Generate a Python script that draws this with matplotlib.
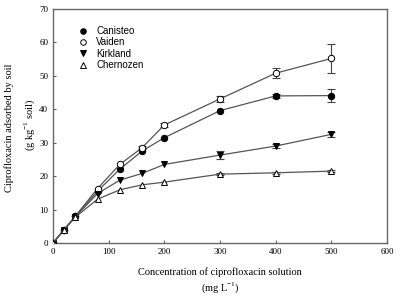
import numpy as np
import matplotlib.pyplot as plt
from matplotlib.lines import Line2D

plt.rcParams['mathtext.fontset'] = 'custom'
plt.rcParams['mathtext.rm'] = 'Liberation Serif'

# concentration of solution (mg/L)
conc = [0, 20, 40, 80, 120, 160, 200, 300, 400, 500]

# adsorbed amounts (g/kg soil)
canisteo = [0, 4.0, 8.0, 15.5, 22.1, 27.5, 31.5, 39.6, 44.0, 44.1]
canisteo_err = [0, 0, 0, 0, 0, 0, 0, 0, 0.5, 2.0]
vaiden = [0, 4.0, 8.0, 16.3, 23.5, 28.5, 35.3, 43.1, 50.8, 55.2]
vaiden_err = [0, 0, 0, 0, 0, 0.5, 0.5, 1.0, 1.5, 4.3]
kirkland = [0, 4.0, 7.8, 14.8, 18.8, 20.8, 23.5, 26.3, 29.0, 32.5]
kirkland_err = [0, 0, 0, 0, 0, 0, 0, 1.3, 0.5, 0.8]
chernozen = [0, 4.0, 7.7, 13.1, 15.9, 17.4, 18.2, 20.6, 21.0, 21.5]
chernozen_err = [0, 0, 0, 0, 0, 0, 0, 0.3, 0.3, 0.3]

names = ['Canisteo', 'Vaiden', 'Kirkland', 'Chernozen']
series = [canisteo, vaiden, kirkland, chernozen]
errs = [canisteo_err, vaiden_err, kirkland_err, chernozen_err]
markers = ['o', 'o', 'v', '^']
fills = ['black', 'white', 'black', 'white']

fig = plt.figure(figsize=(4, 3), dpi=100)
ax = fig.add_axes([0.1325, 0.19, 0.835, 0.78])

line_c = '#555555'
handles = []
for name, y, e, m, f in zip(names, series, errs, markers, fills):
    x = np.array(conc)
    y = np.array(y)
    e = np.array(e)
    keep = e > 0
    ax.errorbar(x[keep], y[keep], yerr=e[keep], fmt='none', ecolor='#444444',
                elinewidth=0.8, capsize=3, capthick=0.8, zorder=2)
    ax.plot(x, y, color=line_c, lw=0.9, marker=m, ms=4.6, mfc=f,
            mec='black', mew=0.7, zorder=3)
    handles.append(Line2D([], [], ls='none', marker=m, ms=4.0, mfc=f,
                          mec='black', mew=0.7, label=name))

ax.set_xlim(0, 600)
ax.set_ylim(0, 70)
ax.set_xticks([0, 100, 200, 300, 400, 500, 600])
ax.set_yticks([0, 10, 20, 30, 40, 50, 60, 70])
ax.tick_params(direction='in', length=2.5, width=0.6, labelsize=6.5, color='#444444')
for lab in ax.get_xticklabels() + ax.get_yticklabels():
    lab.set_family('Liberation Serif')
for s in ax.spines.values():
    s.set_color('#666666')
    s.set_linewidth(1.0)

# axis titles as separate lines (the original has wide line gaps)
fig.text(0.55, 1 - 272 / 300, 'Concentration of ciprofloxacin solution',
         family='Liberation Serif', fontsize=7.5, ha='center', va='center')
fig.text(0.55, 1 - 288 / 300, '(mg L$^{-1}$)',
         family='Liberation Serif', fontsize=7.5, ha='center', va='center')
fig.text(9 / 400, 1 - 128 / 300, 'Ciprofloxacin adsorbed by soil',
         family='Liberation Serif', fontsize=7.5, ha='center', va='center',
         rotation=90)
fig.text(30 / 400, 1 - 125 / 300, '(g kg$^{-1}$ soil)',
         family='Liberation Serif', fontsize=7.5, ha='center', va='center',
         rotation=90)

ax.legend(handles=handles, loc='upper left', bbox_to_anchor=(0.045, 0.965),
          frameon=False, prop={'family': 'Liberation Sans', 'size': 7},
          handletextpad=0.8, labelspacing=0.15, handlelength=1.2,
          borderpad=0.4)

fig.savefig('out.png', dpi=100)
